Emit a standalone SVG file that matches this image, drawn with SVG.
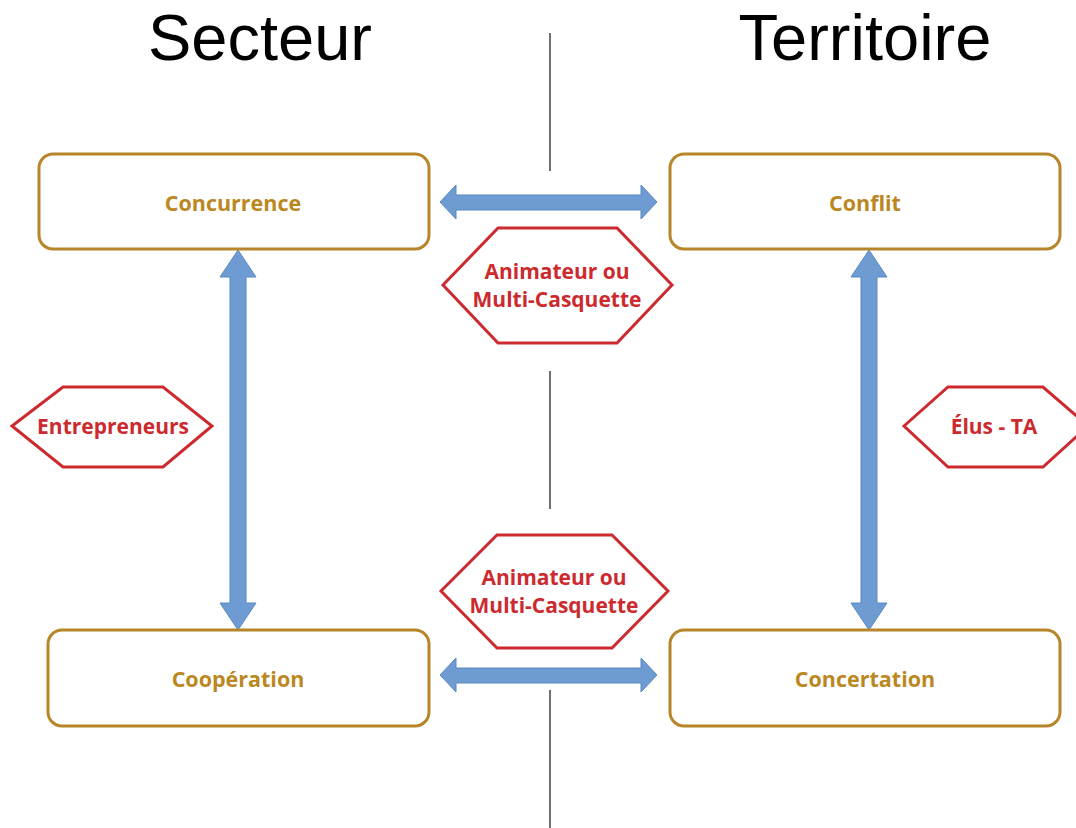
<svg xmlns="http://www.w3.org/2000/svg" width="1076" height="828" viewBox="0 0 1076 828">
<style>
.box{fill:#fff;stroke:#b8862a;stroke-width:3}
.bt{font-family:"Open Sans","Noto Sans",sans-serif;font-weight:bold;font-size:21.5px;fill:#bb871f;text-anchor:middle;dominant-baseline:central}
.hex{fill:#fff;stroke:#cc2a2e;stroke-width:3;stroke-linejoin:miter}
.ht{font-family:"Open Sans","Noto Sans",sans-serif;font-weight:bold;font-size:21px;fill:#cc2a2e;text-anchor:middle;dominant-baseline:central}
.arr{fill:#6d9bd2;stroke:#5a88c2;stroke-width:1}
.title{font-family:"Liberation Sans",Arial,sans-serif;font-size:65px;fill:#000;text-anchor:middle}
.sep{stroke:#111;stroke-width:1.2}
</style>
<rect width="1076" height="828" fill="#fff"/>
<g id="separator">
<line class="sep" x1="550" y1="33" x2="550" y2="171"/>
<line class="sep" x1="550" y1="371" x2="550" y2="509"/>
<line class="sep" x1="550" y1="690" x2="550" y2="828"/>
</g>
<g id="titles">
<text class="title" x="260" y="60">Secteur</text>
<text class="title" x="865" y="60">Territoire</text>
</g>
<g id="connectors">
<polygon class="arr" points="440,202 456,185 456,195 641,195 641,185 657,202 641,219 641,210 456,210 456,219"/>
<polygon class="arr" points="440,675 456,658 456,668 641,668 641,658 657,675 641,692 641,683 456,683 456,692"/>
<polygon class="arr" points="238,250 256,277 246,277 246,603 256,603 238,630 220,603 230,603 230,277 220,277"/>
<polygon class="arr" points="869,250 887,277 877,277 877,603 887,603 869,630 851,603 861,603 861,277 851,277"/>
</g>
<g id="concurrence">
<rect class="box" x="39" y="154" width="390" height="95" rx="14"/>
<text class="bt" x="233" y="202">Concurrence</text>
</g>
<g id="conflit">
<rect class="box" x="670" y="154" width="390" height="95" rx="14"/>
<text class="bt" x="865" y="202">Conflit</text>
</g>
<g id="cooperation">
<rect class="box" x="48" y="630" width="381" height="96" rx="14"/>
<text class="bt" x="238" y="678">Coopération</text>
</g>
<g id="concertation">
<rect class="box" x="670" y="630" width="390" height="96" rx="14"/>
<text class="bt" x="865" y="678">Concertation</text>
</g>
<g id="animateur-top">
<polygon class="hex" points="443,285 498,228 617,228 672,285 617,343 498,343"/>
<text class="ht" x="557" y="271">Animateur ou</text>
<text class="ht" x="557" y="299">Multi-Casquette</text>
</g>
<g id="animateur-bottom">
<polygon class="hex" points="441,591 497,535 612,535 668,591 612,648 497,648"/>
<text class="ht" x="554" y="577">Animateur ou</text>
<text class="ht" x="554" y="605">Multi-Casquette</text>
</g>
<g id="entrepreneurs">
<polygon class="hex" points="12,426 63,387 163,387 212,426 163,467 63,467"/>
<text class="ht" x="113" y="426">Entrepreneurs</text>
</g>
<g id="elus-ta">
<polygon class="hex" points="904,426 948,387 1043,387 1088,426 1043,467 948,467"/>
<text class="ht" x="994" y="426">Élus - TA</text>
</g>
</svg>
